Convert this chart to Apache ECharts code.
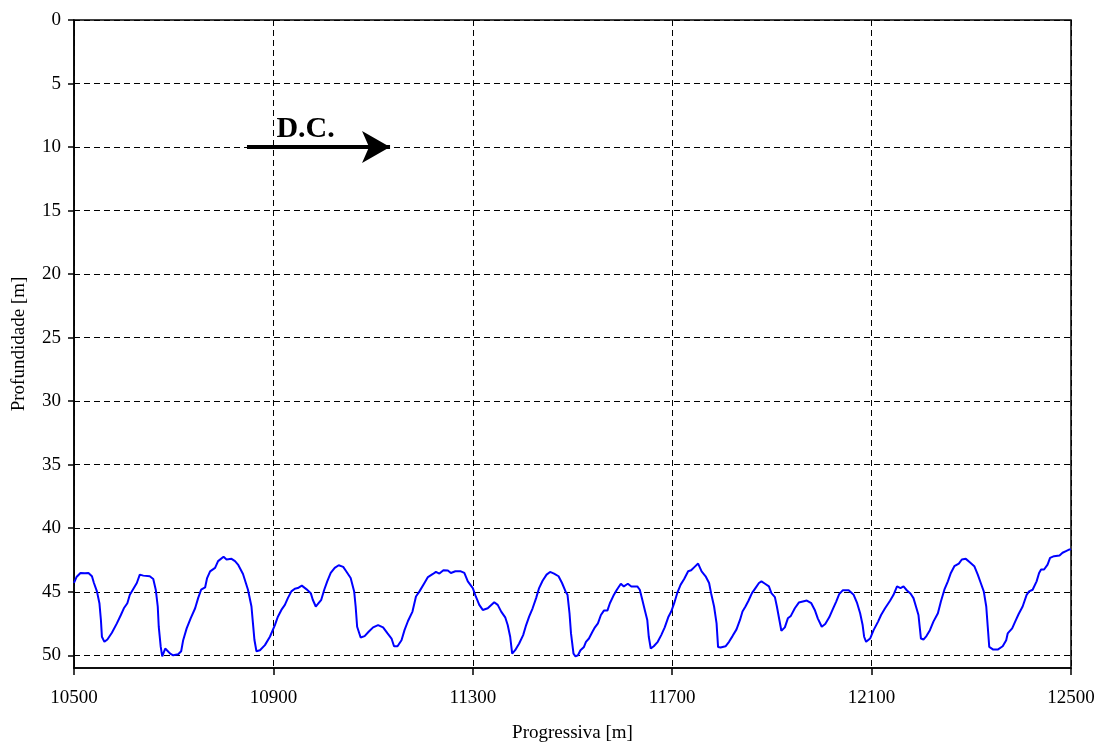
<!DOCTYPE html>
<html>
<head>
<meta charset="utf-8">
<script src="https://cdn.jsdelivr.net/npm/echarts@6/dist/echarts.min.js"></script>
<style>
  html, body { margin: 0; padding: 0; background: #fff; }
  #chart { width: 1098px; height: 742px; }
</style>
</head>
<body>
<div id="chart"></div>
<script>
// Progressive distance along the route [m]
const progressiva = [
  10500, 10505, 10513, 10522, 10529, 10536, 10540, 10546, 10551, 10554,
  10556, 10561, 10567, 10576, 10586, 10594, 10600, 10607, 10612, 10618,
  10626, 10632, 10639, 10652, 10659, 10664, 10668, 10670, 10674, 10677,
  10679, 10683, 10687, 10693, 10699, 10709, 10715, 10719, 10726, 10734,
  10743, 10749, 10755, 10763, 10767, 10773, 10783, 10789, 10800, 10806,
  10816, 10823, 10829, 10839, 10849, 10856, 10859, 10862, 10866, 10873,
  10883, 10893, 10903, 10909, 10916, 10923, 10929, 10936, 10943, 10949,
  10957, 10966, 10975, 10979, 10985, 10989, 10996, 11002, 11008, 11015,
  11023, 11031, 11040, 11046, 11055, 11062, 11065, 11068, 11075, 11083,
  11091, 11100, 11110, 11120, 11129, 11137, 11142, 11149, 11157, 11163,
  11170, 11179, 11186, 11193, 11203, 11210, 11220, 11226, 11233, 11241,
  11250, 11256, 11265, 11276, 11283, 11290, 11300, 11306, 11313, 11320,
  11330, 11343, 11350, 11357, 11365, 11370, 11375, 11379, 11385, 11393,
  11401, 11407, 11413, 11420, 11427, 11433, 11440, 11448, 11455, 11463,
  11472, 11479, 11486, 11490, 11494, 11497, 11502, 11506, 11511, 11516,
  11523, 11527, 11533, 11540, 11545, 11551, 11557, 11563, 11570, 11575,
  11582, 11589, 11597, 11603, 11611, 11618, 11630, 11635, 11640, 11645,
  11650, 11653, 11657, 11663, 11671, 11678, 11685, 11692, 11698, 11704,
  11710, 11717, 11724, 11732, 11738, 11745, 11752, 11759, 11767, 11774,
  11778, 11784, 11789, 11792, 11797, 11807, 11814, 11821, 11829, 11836,
  11841, 11847, 11853, 11860, 11867, 11874, 11879, 11887, 11894, 11899,
  11906, 11910, 11915, 11919, 11926, 11932, 11938, 11946, 11954, 11962,
  11970, 11979, 11986, 11992, 12000, 12007, 12015, 12022, 12029, 12035,
  12042, 12054, 12064, 12071, 12077, 12082, 12085, 12089, 12097, 12104,
  12113, 12119, 12127, 12137, 12144, 12151, 12158, 12164, 12171, 12178,
  12184, 12189, 12194, 12199, 12204, 12210, 12217, 12224, 12233, 12239,
  12246, 12253, 12259, 12266, 12275, 12281, 12289, 12297, 12306, 12313,
  12319, 12325, 12330, 12333, 12336, 12344, 12353, 12363, 12370, 12373,
  12382, 12388, 12395, 12403, 12411, 12416, 12423, 12431, 12436, 12440,
  12446, 12453, 12458, 12466, 12477, 12483, 12490, 12497, 12500
];

// Bed depth [m]
const profundidade = [
  44.30, 43.84, 43.52, 43.55, 43.52, 43.78, 44.31, 44.97, 45.90, 47.22,
  48.54, 48.94, 48.76, 48.23, 47.49, 46.83, 46.30, 45.90, 45.24, 44.84,
  44.31, 43.65, 43.73, 43.78, 43.99, 44.84, 46.16, 47.75, 49.34, 50.08,
  50.00, 49.47, 49.55, 49.87, 50.00, 49.92, 49.68, 48.81, 47.88, 47.09,
  46.30, 45.50, 44.84, 44.66, 43.92, 43.39, 43.12, 42.59, 42.25, 42.46,
  42.41, 42.59, 42.86, 43.60, 44.84, 46.16, 47.49, 48.80, 49.68, 49.60,
  49.20, 48.54, 47.62, 46.96, 46.43, 46.03, 45.50, 44.97, 44.76, 44.71,
  44.52, 44.79, 45.11, 45.63, 46.16, 45.98, 45.63, 44.84, 44.18, 43.52,
  43.12, 42.91, 43.04, 43.39, 43.92, 44.97, 46.16, 47.75, 48.60, 48.49,
  48.15, 47.80, 47.62, 47.80, 48.28, 48.68, 49.29, 49.29, 48.81, 48.02,
  47.30, 46.56, 45.37, 44.97, 44.31, 43.84, 43.60, 43.44, 43.57, 43.31,
  43.33, 43.52, 43.39, 43.39, 43.52, 44.18, 44.71, 45.37, 46.03, 46.43,
  46.30, 45.82, 46.03, 46.56, 47.01, 47.62, 48.54, 49.87, 49.60, 49.07,
  48.41, 47.62, 46.96, 46.30, 45.50, 44.71, 44.13, 43.65, 43.44, 43.57,
  43.78, 44.31, 44.97, 45.24, 46.69, 48.28, 49.87, 50.08, 50.00, 49.60,
  49.34, 48.94, 48.68, 48.15, 47.80, 47.49, 46.83, 46.48, 46.48, 45.90,
  45.32, 44.84, 44.37, 44.58, 44.37, 44.58, 44.58, 44.84, 45.63, 46.43,
  47.22, 48.54, 49.47, 49.29, 48.94, 48.41, 47.80, 47.01, 46.56, 45.90,
  45.11, 44.44, 44.00, 43.39, 43.31, 43.04, 42.78, 43.39, 43.78, 44.31,
  45.11, 46.16, 47.49, 49.34, 49.39, 49.29, 48.94, 48.49, 47.96, 47.22,
  46.55, 46.16, 45.71, 45.11, 44.71, 44.31, 44.18, 44.39, 44.58, 45.11,
  45.42, 46.16, 47.22, 48.07, 47.80, 47.09, 46.90, 46.30, 45.85, 45.77,
  45.69, 45.90, 46.43, 47.09, 47.75, 47.54, 47.01, 46.38, 45.77, 45.19,
  44.89, 44.89, 45.24, 45.90, 46.69, 47.62, 48.54, 48.94, 48.68, 48.02,
  47.35, 46.83, 46.30, 45.71, 45.24, 44.58, 44.71, 44.58, 44.90, 45.13,
  45.50, 46.16, 46.83, 48.68, 48.76, 48.49, 48.02, 47.35, 46.69, 45.77,
  44.84, 44.18, 43.52, 42.99, 42.78, 42.46, 42.41, 42.67, 42.99, 43.65,
  44.31, 44.97, 46.16, 47.75, 49.34, 49.55, 49.55, 49.29, 48.81, 48.28,
  47.88, 47.35, 46.75, 46.16, 45.24, 44.97, 44.84, 44.18, 43.52, 43.25,
  43.25, 42.86, 42.33, 42.20, 42.14, 41.93, 41.80, 41.67, 41.67
];

// Tick labels on both axes
const xTicks = [10500, 10900, 11300, 11700, 12100, 12500];
const yTicks = [0, 5, 10, 15, 20, 25, 30, 35, 40, 45, 50];

// Flow-direction annotation ("D.C.") drawn as an arrow at 10 m depth
const arrowFrom = [10847, 10];
const arrowTo = [11134, 10];
const arrowLabel = 'D.C.';
const arrowLabelAt = [10906, 9.75];

const serif = '"Liberation Serif", "Times New Roman", serif';

const chart = echarts.init(document.getElementById('chart'), null, { renderer: 'canvas' });

const dashed = { color: '#000', width: 1, type: [6, 4] };

chart.setOption({
  animation: false,
  backgroundColor: '#fff',
  grid: {
    left: 74, right: 27, top: 20, bottom: 74,
    outerBoundsMode: 'none',
    containLabel: false,
    show: true, borderColor: '#000', borderWidth: 1.5,
    backgroundColor: 'transparent'
  },
  xAxis: {
    type: 'value',
    min: 10500, max: 12500, interval: 400,
    name: 'Progressiva [m]',
    nameLocation: 'middle',
    nameGap: 56,
    nameTextStyle: { fontFamily: serif, fontSize: 19, color: '#000' },
    axisLine: { show: true, onZero: false, lineStyle: { color: '#000', width: 1.5 } },
    axisTick: { show: true, inside: false, length: 7, customValues: xTicks, lineStyle: { color: '#000', width: 1.5 } },
    axisLabel: {
      customValues: xTicks, margin: 21,
      formatter: v => String(v),
      fontFamily: serif, fontSize: 19, color: '#000'
    },
    splitLine: { show: true, lineStyle: dashed }
  },
  yAxis: {
    type: 'value',
    inverse: true,
    min: 0, max: 51, interval: 5,
    name: 'Profundidade [m]',
    nameLocation: 'middle',
    nameGap: 45,
    nameTextStyle: { fontFamily: serif, fontSize: 19, color: '#000' },
    axisLine: { show: true, onZero: false, lineStyle: { color: '#000', width: 1.5 } },
    axisTick: { show: true, inside: false, length: 6, customValues: yTicks, lineStyle: { color: '#000', width: 1.5 } },
    axisLabel: { customValues: yTicks, margin: 13, formatter: v => String(v), fontFamily: serif, fontSize: 19, color: '#000' },
    splitLine: { show: true, lineStyle: dashed }
  },
  series: [
    {
      type: 'line',
      data: progressiva.map((x, i) => [x, profundidade[i]]),
      showSymbol: false,
      symbol: 'none',
      lineStyle: { color: '#0000ff', width: 2 },
      z: 3,
      markLine: {
        silent: true,
        symbol: ['none', 'arrow'],
        symbolSize: [24, 28],
        lineStyle: { color: '#000', width: 4, type: 'solid' },
        label: { show: false },
        data: [[{ coord: arrowFrom }, { coord: arrowTo }]]
      },
      markPoint: {
        silent: true,
        symbol: 'circle',
        symbolSize: 0,
        label: {
          show: true,
          position: 'inside',
          align: 'left',
          verticalAlign: 'bottom',
          formatter: arrowLabel,
          fontFamily: serif,
          fontWeight: 'bold',
          fontSize: 30,
          color: '#000'
        },
        data: [{ coord: arrowLabelAt }]
      }
    }
  ]
});
</script>
</body>
</html>
